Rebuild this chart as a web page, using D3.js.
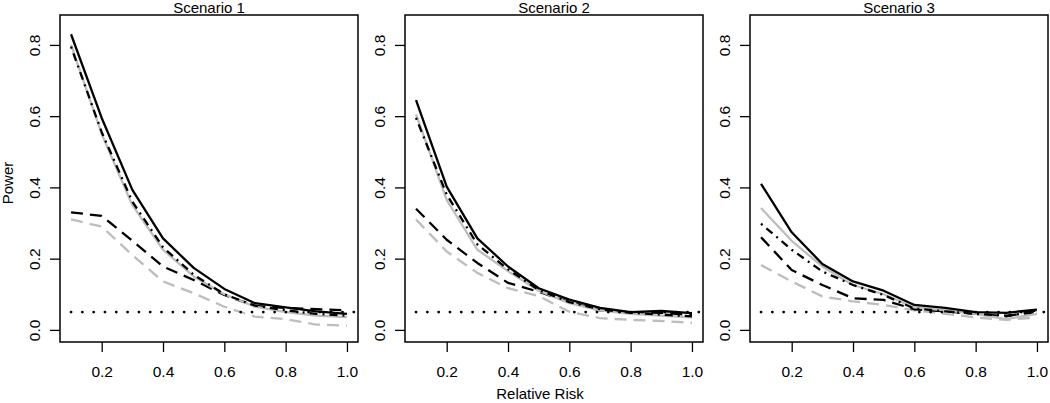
<!DOCTYPE html>
<html>
<head>
<meta charset="utf-8">
<script src="https://cdn.jsdelivr.net/npm/d3@7"></script>
<style>
  html, body { margin: 0; padding: 0; background: #fff; }
  svg { display: block; }
  text { font-family: "Liberation Sans", Arial, Helvetica, sans-serif; fill: #000; }
</style>
</head>
<body>
<svg id="chart" width="1050" height="403"></svg>
<script>
// ---------- data ----------
const relRisk = [0.1, 0.2, 0.3, 0.4, 0.5, 0.6, 0.7, 0.8, 0.9, 1.0];
const scenarioTitles = ["Scenario 1", "Scenario 2", "Scenario 3"];
const xTickValues = [0.2, 0.4, 0.6, 0.8, 1.0];
const yTickValues = [0.0, 0.2, 0.4, 0.6, 0.8];
const nominalLevel = 0.05;

// Scenario 1
const blackSolid1 = [0.83, 0.595, 0.393, 0.257, 0.174, 0.115, 0.075, 0.063, 0.052, 0.045];
const greySolid1  = [0.80, 0.55, 0.35, 0.225, 0.15, 0.10, 0.065, 0.050, 0.040, 0.036];
const dotDash1    = [0.795, 0.555, 0.36, 0.232, 0.155, 0.10, 0.068, 0.055, 0.045, 0.040];
const blackDash1  = [0.33, 0.32, 0.25, 0.178, 0.14, 0.098, 0.067, 0.062, 0.058, 0.055];
const greyDash1   = [0.31, 0.29, 0.21, 0.136, 0.103, 0.065, 0.037, 0.030, 0.015, 0.012];

// Scenario 2
const blackSolid2 = [0.645, 0.402, 0.257, 0.178, 0.117, 0.085, 0.062, 0.050, 0.053, 0.047];
const greySolid2  = [0.605, 0.365, 0.225, 0.165, 0.110, 0.075, 0.055, 0.045, 0.040, 0.035];
const dotDash2    = [0.595, 0.38, 0.24, 0.170, 0.112, 0.078, 0.058, 0.048, 0.043, 0.038];
const blackDash2  = [0.34, 0.253, 0.188, 0.132, 0.107, 0.078, 0.055, 0.050, 0.048, 0.042];
const greyDash2   = [0.31, 0.22, 0.16, 0.117, 0.095, 0.051, 0.033, 0.028, 0.025, 0.020];

// Scenario 3
const blackSolid3 = [0.41, 0.274, 0.185, 0.136, 0.110, 0.070, 0.062, 0.050, 0.048, 0.057];
const greySolid3  = [0.342, 0.25, 0.178, 0.126, 0.100, 0.063, 0.055, 0.045, 0.030, 0.045];
const dotDash3    = [0.298, 0.225, 0.164, 0.126, 0.098, 0.060, 0.052, 0.045, 0.040, 0.050];
const blackDash3  = [0.26, 0.168, 0.126, 0.089, 0.084, 0.058, 0.052, 0.045, 0.038, 0.055];
const greyDash3   = [0.182, 0.136, 0.094, 0.080, 0.070, 0.055, 0.045, 0.035, 0.028, 0.035];

const scenarios = [
  { greyDash: greyDash1, blackDash: blackDash1, greySolid: greySolid1, dotDash: dotDash1, blackSolid: blackSolid1 },
  { greyDash: greyDash2, blackDash: blackDash2, greySolid: greySolid2, dotDash: dotDash2, blackSolid: blackSolid2 },
  { greyDash: greyDash3, blackDash: blackDash3, greySolid: greySolid3, dotDash: dotDash3, blackSolid: blackSolid3 }
];

// ---------- styles ----------
const seriesStyle = [
  { key: "greyDash",   color: "#bdbdbd", width: 2.3, dash: "12,7" },
  { key: "blackDash",  color: "#000",    width: 2.3, dash: "12,7" },
  { key: "greySolid",  color: "#bdbdbd", width: 2.3, dash: null },
  { key: "dotDash",    color: "#000",    width: 2.3, dash: "2,5,8,5" },
  { key: "blackSolid", color: "#000",    width: 2.3, dash: null }
];

// ---------- layout ----------
const panelLefts = [60, 405, 750];
const panelWidth = 298;
const boxTop = 15, boxBottom = 342;

const svg = d3.select("#chart");

const yScale = d3.scaleLinear().domain([-0.034, 0.884]).range([boxBottom, boxTop]);

scenarios.forEach((sc, i) => {
  const left = panelLefts[i], right = left + panelWidth;
  const xScale = d3.scaleLinear().domain([0.064, 1.036]).range([left, right]);

  const clipId = "clip" + i;
  svg.append("clipPath").attr("id", clipId)
    .append("rect").attr("x", left).attr("y", boxTop)
    .attr("width", panelWidth).attr("height", boxBottom - boxTop);

  const g = svg.append("g").attr("clip-path", `url(#${clipId})`);

  const line = d3.line().x((d, j) => xScale(relRisk[j])).y(d => yScale(d));

  seriesStyle.forEach(s => {
    g.append("path")
      .datum(sc[s.key])
      .attr("d", line)
      .attr("fill", "none")
      .attr("stroke", s.color)
      .attr("stroke-width", s.width)
      .attr("stroke-dasharray", s.dash)
      .attr("stroke-linejoin", "round");
  });

  // nominal level dotted line
  g.append("line")
    .attr("x1", xScale(relRisk[0])).attr("x2", right + 5)
    .attr("y1", yScale(nominalLevel)).attr("y2", yScale(nominalLevel))
    .attr("stroke", "#000").attr("stroke-width", 2.8)
    .attr("stroke-linecap", "round")
    .attr("stroke-dasharray", "0.01,11.3");

  // box
  svg.append("rect")
    .attr("x", left).attr("y", boxTop)
    .attr("width", panelWidth).attr("height", boxBottom - boxTop)
    .attr("fill", "none").attr("stroke", "#000").attr("stroke-width", 1.5);

  // x axis
  const xAxis = svg.append("g")
    .attr("transform", `translate(0,${boxBottom})`)
    .call(d3.axisBottom(xScale).tickValues(xTickValues).tickSize(10).tickFormat(d3.format(".1f")));
  xAxis.select(".domain").remove();
  xAxis.selectAll(".tick line").attr("stroke", "#000").attr("stroke-width", 1.3);
  xAxis.selectAll(".tick text")
    .attr("y", 35).attr("dy", 0)
    .attr("font-size", 15.5).attr("fill", "#000")
    .style("font-family", "'Liberation Sans', Arial, sans-serif");

  // y axis
  const yAxis = svg.append("g")
    .attr("transform", `translate(${left},0)`)
    .call(d3.axisLeft(yScale).tickValues(yTickValues).tickSize(10).tickFormat(d3.format(".1f")));
  yAxis.select(".domain").remove();
  yAxis.selectAll(".tick line").attr("stroke", "#000").attr("stroke-width", 1.3);
  yAxis.selectAll(".tick text")
    .attr("x", 0).attr("y", -20).attr("dy", 0)
    .attr("transform", "rotate(-90)")
    .attr("text-anchor", "middle")
    .attr("font-size", 15.5).attr("fill", "#000")
    .style("font-family", "'Liberation Sans', Arial, sans-serif");

  // title
  svg.append("text")
    .attr("x", (left + right) / 2).attr("y", 12.5)
    .attr("text-anchor", "middle")
    .attr("font-size", 15)
    .text(scenarioTitles[i]);
});

// axis titles
svg.append("text")
  .attr("x", 540).attr("y", 399)
  .attr("text-anchor", "middle")
  .attr("font-size", 15)
  .text("Relative Risk");

svg.append("text")
  .attr("transform", "translate(12.5,183) rotate(-90)")
  .attr("text-anchor", "middle")
  .attr("font-size", 15)
  .text("Power");
</script>
</body>
</html>
